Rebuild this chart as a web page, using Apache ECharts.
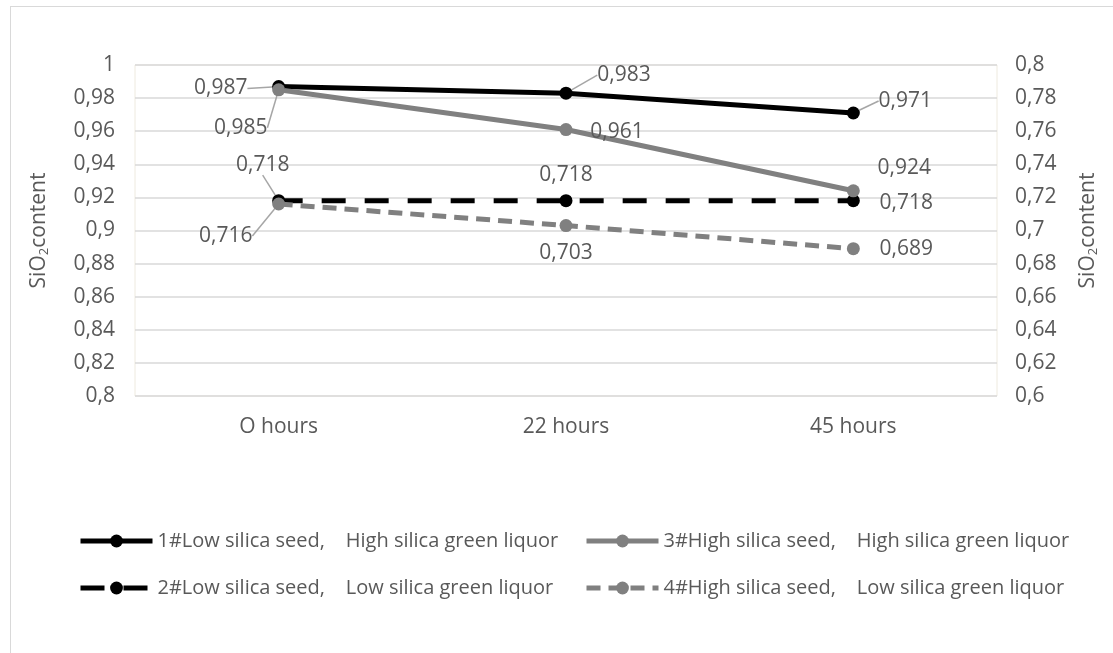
<!DOCTYPE html>
<html>
<head>
<meta charset="utf-8">
<script src="https://cdn.jsdelivr.net/npm/echarts@6/dist/echarts.min.js"></script>
<style>
  html, body { margin: 0; padding: 0; background: #fff; }
  #frame { position: absolute; left: 10px; top: 6px; width: 1110px; height: 660px; border: 1px solid #d9d9d9; box-sizing: border-box; }
  #chart { position: absolute; left: 0; top: 0; width: 1113px; height: 653px; }
</style>
</head>
<body>
<div id="frame"></div>
<div id="chart"></div>
<script>
const categories = ['O hours', '22 hours', '45 hours']
const seriesNames = [
  '1#Low silica seed,    High silica green liquor',
  '2#Low silica seed,    Low silica green liquor',
  '3#High silica seed,    High silica green liquor',
  '4#High silica seed,    Low silica green liquor'
]
const lowSeedHighLiquor = [0.987, 0.983, 0.971]
const lowSeedLowLiquor = [0.718, 0.718, 0.718]
const highSeedHighLiquor = [0.985, 0.961, 0.924]
const highSeedLowLiquor = [0.716, 0.703, 0.689]

// label offsets from the point (dx, dy) and whether a leader line is drawn
const labelOffsets = [
  [[-58, 2, true], [58, -18, true], [52, -12, true]],
  [[-16, -36, true], [0, -26, false], [53, 2, false]],
  [[-38, 38, true], [51, 2, false], [51, -23, false]],
  [[-53, 32, true], [0, 27, false], [53, 0, false]]
]

const textColor = '#595959'
const font = '"Open Sans", sans-serif'
const fs = 21
const comma = v => String(v).replace('.', ',')

const chart = echarts.init(document.getElementById('chart'))

const makeSeries = (i, data, axis, color, dash) => ({
  name: seriesNames[i],
  type: 'line',
  yAxisIndex: axis,
  symbol: 'circle',
  symbolSize: 13,
  lineStyle: { color: color, width: 5, type: dash || 'solid' },
  itemStyle: { color: color },
  label: {
    show: true,
    position: 'inside',
    color: textColor,
    fontFamily: font,
    fontSize: fs,
    formatter: p => comma(p.value)
  },
  labelLine: { show: true, lineStyle: { color: '#a6a6a6', width: 1.5 } },
  data: data.map((v, j) => ({
    value: v,
    labelLine: { show: labelOffsets[i][j][2] }
  })),
  z: dash ? 2 : 3
})

const yName = {
  rich: {
    t: { fontSize: fs, color: textColor, fontFamily: font },
    s: { fontSize: 13, color: textColor, fontFamily: font, verticalAlign: 'bottom', padding: [10, 0, 0, 0] }
  }
}

const legendBase = {
  orient: 'vertical', top: 531, itemGap: 27, padding: 0,
  itemWidth: 72, itemHeight: 16,
  lineStyle: { width: 5 },
  textStyle: { color: textColor, fontSize: 20, fontFamily: font }
}

chart.setOption({
  backgroundColor: 'transparent',
  textStyle: { fontFamily: font },
  animation: false,
  grid: {
    left: 135, right: 116, top: 65, bottom: 257,
    show: true, borderColor: '#eeeadf', borderWidth: 1
  },
  legend: [
    Object.assign({ data: [seriesNames[0], seriesNames[1]], left: 78 }, legendBase),
    Object.assign({ data: [seriesNames[2], seriesNames[3]], left: 584 }, legendBase)
  ],
  xAxis: {
    type: 'category',
    data: categories,
    boundaryGap: true,
    axisLine: { show: false },
    axisTick: { show: false },
    axisLabel: { color: textColor, fontSize: fs, fontFamily: font, margin: 21 }
  },
  yAxis: [
    {
      type: 'value', min: 0.8, max: 1, interval: 0.02,
      name: '{t|SiO}{s|2}{t|content}', nameLocation: 'middle', nameGap: 84,
      nameTextStyle: yName,
      axisLine: { show: false }, axisTick: { show: false },
      axisLabel: { color: textColor, fontSize: fs, fontFamily: font, margin: 20, formatter: v => comma(+v.toFixed(2)) },
      splitLine: { lineStyle: { color: '#d9d9d9', width: 1.5 } }
    },
    {
      type: 'value', min: 0.6, max: 0.8, interval: 0.02,
      name: '{t|SiO}{s|2}{t|content}', nameLocation: 'middle', nameGap: 80, nameRotate: 90,
      nameTextStyle: yName,
      axisLine: { show: false }, axisTick: { show: false },
      axisLabel: { color: textColor, fontSize: fs, fontFamily: font, margin: 18, formatter: v => comma(+v.toFixed(2)) },
      splitLine: { show: false }
    }
  ],
  labelLayout: p => {
    const o = labelOffsets[p.seriesIndex][p.dataIndex]
    return { dx: o[0], dy: o[1] }
  },
  series: [
    makeSeries(0, lowSeedHighLiquor, 0, '#000000', null),
    makeSeries(1, lowSeedLowLiquor, 1, '#000000', [24, 19]),
    makeSeries(2, highSeedHighLiquor, 0, '#808080', null),
    makeSeries(3, highSeedLowLiquor, 1, '#808080', [14, 8])
  ]
})
window.addEventListener('resize', () => chart.resize())
</script>
</body>
</html>
